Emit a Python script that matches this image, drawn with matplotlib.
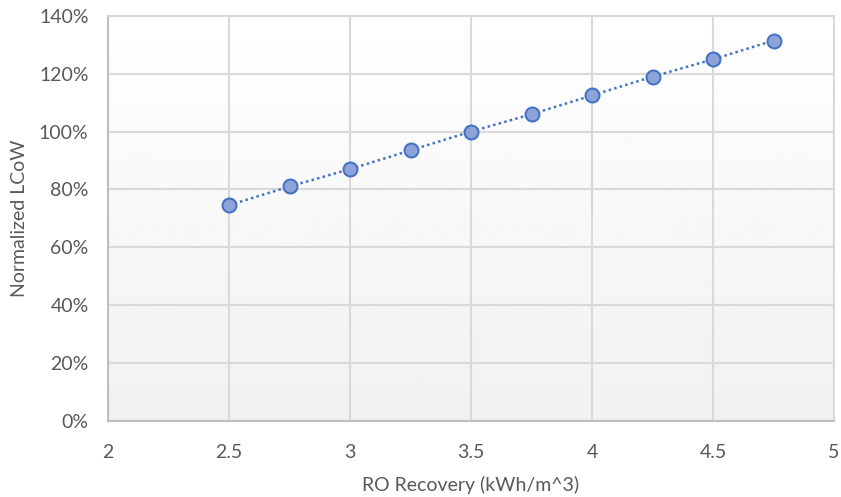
import matplotlib.pyplot as plt
import numpy as np
from matplotlib.ticker import FuncFormatter

# data
recovery = [2.5, 2.75, 3.0, 3.25, 3.5, 3.75, 4.0, 4.25, 4.5, 4.75]
lcow_pct = [74.5, 81.0, 87.0, 93.5, 100.0, 106.0, 112.5, 119.0, 125.0, 131.5]
x_ticks = [2, 2.5, 3, 3.5, 4, 4.5, 5]
x_tick_labels = ['2', '2.5', '3', '3.5', '4', '4.5', '5']
y_ticks = [0, 20, 40, 60, 80, 100, 120, 140]

plt.rcParams['font.family'] = ['Lato', 'DejaVu Sans']

fig = plt.figure(figsize=(8.41, 4.97), dpi=100)
ax = fig.add_axes([108 / 841, 76.5 / 497, 726 / 841, 404.5 / 497])

# light vertical gradient behind the plot area (white on top, grey at bottom)
grad = np.linspace(1.0, 0.945, 256).reshape(-1, 1)
ax.imshow(np.repeat(grad, 2, axis=1), cmap='gray', vmin=0, vmax=1,
          extent=[0, 1, 0, 1], transform=ax.transAxes, aspect='auto',
          zorder=0, interpolation='bicubic')

ax.plot(recovery, lcow_pct, linestyle=(0, (1, 1.3)), color='#4472c4', linewidth=1.8,
        marker='o', markersize=10, markerfacecolor='#8ea4d8',
        markeredgecolor='#4472c4', markeredgewidth=1.5, zorder=3)

ax.set_xlim(2, 5)
ax.set_ylim(0, 140)
ax.set_xticks(x_ticks)
ax.set_xticklabels(x_tick_labels)
ax.set_yticks(y_ticks)
ax.yaxis.set_major_formatter(FuncFormatter(lambda v, p: f'{v:.0f}%'))

ax.set_axisbelow(True)
ax.grid(True, color='#d9d9d9', linewidth=1.5)
for side in ['top', 'right']:
    ax.spines[side].set_color('#d9d9d9')
    ax.spines[side].set_linewidth(1.5)
for side in ['left', 'bottom']:
    ax.spines[side].set_color('#bfbfbf')
    ax.spines[side].set_linewidth(1.5)

ax.tick_params(length=0, labelsize=14, colors='#595959')
ax.tick_params(axis='y', pad=14)
ax.tick_params(axis='x', pad=17)

ax.set_xlabel('RO Recovery (kWh/m^3)', fontsize=14, color='#595959', labelpad=11)
ax.set_ylabel('Normalized LCoW', fontsize=14, color='#595959', labelpad=8)

fig.savefig('out.png', dpi=100)
